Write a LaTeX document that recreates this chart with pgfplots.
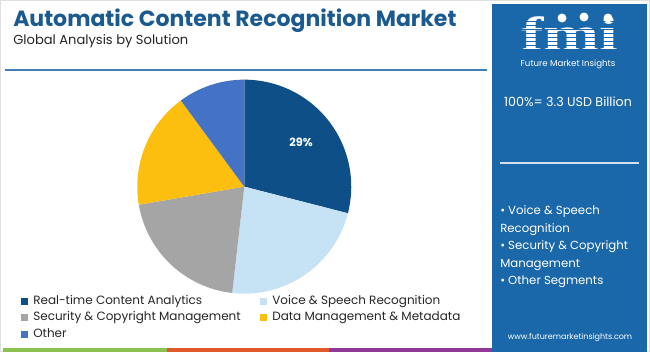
\documentclass[border=0pt]{standalone}
\usepackage{pgfplots}
\pgfplotsset{compat=1.18}
\usepackage{pgfplotstable}
\usepackage{fontspec}
\setmainfont{Poppins}
\newfontfamily\logofont{Liberation Serif}
\definecolor{titleblue}{HTML}{1B5A8E}
\definecolor{panel}{HTML}{1A68A9}
\definecolor{pie0}{HTML}{0D4F86}
\definecolor{pie1}{HTML}{C6E2F5}
\definecolor{pie2}{HTML}{A5A5A5}
\definecolor{pie3}{HTML}{FDBF0F}
\definecolor{pie4}{HTML}{4472C4}
\definecolor{barG}{HTML}{8CC152}
\definecolor{barO}{HTML}{E05A2B}
\definecolor{barP}{HTML}{8E3A96}
\definecolor{rule}{HTML}{3F7FB5}

\pgfplotstableread{
label value
RealTime 29.0
Voice 22.8
Security 20.5
DataMgmt 17.6
Other 10.1
}\piedata

\begin{document}
\begin{tikzpicture}
\begin{scope}[x=0.75pt,y=-0.75pt]
\useasboundingbox (0,0) rectangle (650,352);
\fill[white] (0,0) rectangle (650,352);
\draw[black!12, line width=0.6pt] (0.5,0.5) rectangle (649.5,351.5);
% title
\node[anchor=base west, inner sep=0, text=titleblue, font=\fontsize{16.5}{19}\selectfont\bfseries] at (13,27) {Automatic Content Recognition Market};
\node[anchor=base west, inner sep=0, text=black!85, font=\fontsize{9.8}{12}\selectfont] at (13,45) {Global Analysis by Solution};
\draw[rule, line width=0.8pt] (5,70) -- (487,70);
% bottom bar
\fill[barG] (3,348) rectangle (167,352);
\fill[barO] (167,348) rectangle (329,352);
\fill[barP] (329,348) rectangle (492,352);
% right panel
\fill[panel] (492,4) rectangle (647,352);
\node[anchor=base, inner sep=0, xscale=1.4, text depth=0pt, text=white, font=\logofont\fontsize{36}{36}\selectfont\bfseries] at (570,51) {fmi};
\foreach \yy in {21,25,...,53} {\draw[panel, line width=0.55pt] (512,\yy) -- (630,\yy);}
\fill[white] (562,18) circle (4.5);
\fill[white] (584,17) circle (4.5);
\fill[white] (608,18) circle (4.5);
\node[anchor=base, inner sep=0, text=white, font=\fontsize{6.5}{8}\selectfont] at (568,67) {Future Market Insights};
\node[anchor=base, inner sep=0, text=white, font=\fontsize{9.5}{11}\selectfont] at (568,107) {100\%= 3.3 USD Billion};
\draw[white!80!panel, line width=0.8pt] (500,163) -- (639,163);
\node[anchor=base west, inner sep=0, text=white, font=\fontsize{8.8}{11}\selectfont] at (500,215) {• Voice \& Speech};
\node[anchor=base west, inner sep=0, text=white, font=\fontsize{8.8}{11}\selectfont] at (500,233) {Recognition};
\node[anchor=base west, inner sep=0, text=white, font=\fontsize{8.8}{11}\selectfont] at (500,250) {• Security \& Copyright};
\node[anchor=base west, inner sep=0, text=white, font=\fontsize{8.8}{11}\selectfont] at (500,268) {Management};
\node[anchor=base west, inner sep=0, text=white, font=\fontsize{8.8}{11}\selectfont] at (500,285) {• Other Segments};
\node[anchor=base, inner sep=0, text=white, font=\fontsize{6}{7}\selectfont] at (570,340) {www.futuremarketinsights.com};
% legend
\fill[pie0] (21,298) rectangle (28,305);
\node[anchor=base west, inner sep=0, font=\fontsize{9}{11}\selectfont, text=black!85] at (33,305) {Real-time Content Analytics};
\fill[pie1] (260,298) rectangle (267,305);
\node[anchor=base west, inner sep=0, font=\fontsize{9}{11}\selectfont, text=black!85] at (272,305) {Voice \& Speech Recognition};
\fill[pie2] (21,314) rectangle (28,321);
\node[anchor=base west, inner sep=0, font=\fontsize{9}{11}\selectfont, text=black!85] at (33,321) {Security \& Copyright Management};
\fill[pie3] (260,314) rectangle (267,321);
\node[anchor=base west, inner sep=0, font=\fontsize{9}{11}\selectfont, text=black!85] at (272,321) {Data Management \& Metadata};
\fill[pie4] (21,331) rectangle (28,338);
\node[anchor=base west, inner sep=0, font=\fontsize{9}{11}\selectfont, text=black!85] at (33,338) {Other};
\end{scope}
\begin{axis}[at={(183.2pt,-140.0pt)}, anchor=center, scale only axis,
  width=160.5pt, height=160.5pt, xmin=-1, xmax=1, ymin=-1, ymax=1, hide axis]
\def\cum{0}
\pgfplotsforeachungrouped \i in {0,...,4}{%
  \pgfplotstablegetelem{\i}{value}\of\piedata
  \let\v\pgfplotsretval
  \pgfmathsetmacro\a{90-3.6*\cum}%
  \pgfmathsetmacro\b{90-3.6*(\cum+\v)}%
  \pgfmathsetmacro\ca{cos(\a)}%
  \pgfmathsetmacro\sa{sin(\a)}%
  \edef\doit{\noexpand\fill[pie\i] (axis cs:0,0) -- (axis cs:\ca,\sa) arc[start angle=\a, end angle=\b, radius=80.25pt] -- cycle;}%
  \doit
  \pgfmathsetmacro\cum{\cum+\v}%
}
\node[text=white, font=\fontsize{8.5}{10}\selectfont\bfseries] at (axis cs:0.53,0.41) {29\%};
\end{axis}
\end{tikzpicture}
\end{document}
